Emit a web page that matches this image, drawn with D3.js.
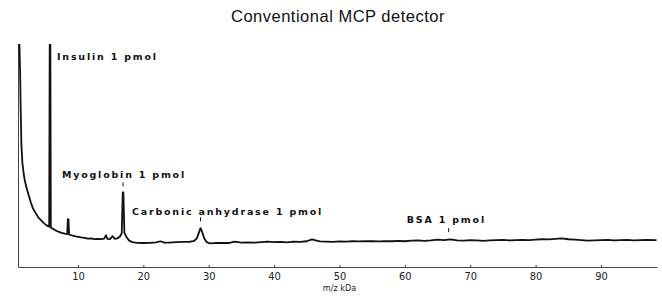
<!DOCTYPE html>
<html>
<head>
<meta charset="utf-8">
<script src="https://cdn.jsdelivr.net/npm/d3@7"></script>
<style>
  body { margin: 0; background: #fff; }
  svg { display: block; }
  .title { font-family: "Liberation Sans", Arial, sans-serif; font-size: 16.5px; letter-spacing: 0.5px; fill: #111; }
  .peak-label { font-family: "DejaVu Sans", sans-serif; font-weight: bold; font-size: 9.5px; letter-spacing: 1.8px; fill: #111; }
  .axis text { font-family: "Liberation Sans Narrow", "DejaVu Sans Condensed", "Liberation Sans", sans-serif; font-size: 11px; fill: #222; }
  .axis path, .axis line { stroke: #444; }
</style>
</head>
<body>
<div id="chart"></div>
<script>
// spectrum (m/z in kDa, intensity in % of full scale)
var spectrumMz = [0.83, 1.05, 1.15, 1.25, 1.35, 1.5, 1.7, 1.9, 2.2, 2.5, 2.8, 3.1, 3.5, 3.9, 4.3, 4.7, 5.1, 5.4, 5.6,
  5.68, 5.78, 5.85, 6.1, 6.5, 7.0, 7.5, 8.0, 8.35, 8.45, 8.55, 8.65, 9.0, 9.5, 10, 10.5, 11, 11.5, 12, 12.5, 13, 13.5,
  14, 14.3, 14.5, 14.9, 15.3, 15.6, 16.0, 16.4, 16.7, 16.85, 16.95, 17.1, 17.4, 17.8, 18.3, 19, 20, 21, 22, 22.6, 23.2,
  24, 25, 26, 27, 27.8, 28.2, 28.5, 28.75, 29.0, 29.3, 29.7, 30.2, 31, 32, 33, 34, 35, 36, 37, 38, 39, 40, 41, 42, 43,
  44, 45, 45.8, 46.5, 47, 48, 49, 50, 51, 52, 53, 54, 55, 56, 57, 58, 59, 60, 61, 62, 63, 64, 65, 66, 67, 68, 69, 70,
  71, 72, 73, 74, 75, 76, 77, 78, 79, 80, 81, 82, 83, 84, 85, 86, 87, 88, 89, 90, 91, 92, 93, 94, 95, 96, 97, 98.5];
var spectrumIntensity = [100, 100, 88, 70, 55, 47, 42, 38.5, 35, 32, 29, 26.5, 24.5, 22.5, 21.2, 20, 19, 18.4, 18.2,
  100, 100, 17.8, 17.3, 16.6, 15.9, 15.4, 15, 14.8, 21.5, 21.5, 14.6, 14.3, 13.9, 13.6, 13.3, 13.1, 12.8, 12.9, 12.6, 12.7, 12.6,
  12.8, 14.3, 12.7, 12.6, 13.9, 12.7, 12.9, 13.6, 15.2, 33.6, 33.6, 15.5, 13.6, 12, 11.2, 10.9, 10.8, 10.9, 11.1, 11.6, 11,
  11, 11.2, 11.3, 11.3, 11.8, 13, 15.5, 17.5, 15.8, 13, 11.2, 10.6, 10.8, 10.9, 10.8, 11.4, 11, 11.1, 11, 11.2, 11.4, 11.2, 11.3, 11.1, 11.4,
  11.3, 11.6, 12.4, 11.9, 11.5, 11.4, 11.3, 11.5, 11.4, 11.6, 11.5, 11.7, 11.6, 11.5, 11.7, 11.6, 11.8, 11.6, 11.9, 12, 11.8, 12, 12.3, 12.1, 12.4, 12, 11.9, 12.1,
  12, 11.8, 12, 12.1, 12.2, 12, 12.1, 12.2, 12.1, 12.3, 12.5, 12.4, 12.7, 12.9, 12.5, 12.3, 12.1, 11.9, 12, 12.1, 12.2, 12, 12.1, 12.2, 12, 12.1, 12.2, 12.1];

var xTicks = [10, 20, 30, 40, 50, 60, 70, 80, 90];

// peak annotations
var peakNames = ["Insulin 1 pmol", "Myoglobin 1 pmol", "Carbonic anhydrase 1 pmol", "BSA 1 pmol"];
var labelMz = [6.8, 7.55, 18.26, 60.3];
var labelIntensity = [94.6, 41.7, 25.1, 21.5];
var markMz = [null, 16.9, 28.75, 66.7];
var markIntensity = [null, 37.2, 21.5, 16.6];

var svgWidth = 662;
var svgHeight = 296;
var margin = { top: 45, right: 5, bottom: 29, left: 18 };
var w = svgWidth - margin.left - margin.right;
var h = svgHeight - margin.top - margin.bottom;

var svg = d3.select("#chart")
  .append("svg")
  .attr("width", svgWidth)
  .attr("height", svgHeight);

svg.append("text")
  .attr("class", "title")
  .attr("x", 338)
  .attr("y", 22)
  .attr("text-anchor", "middle")
  .text("Conventional MCP detector");

var chartGroup = svg.append("g")
  .attr("transform", `translate(${margin.left}, ${margin.top})`);

var x = d3.scaleLinear().domain([0.83, 98.57]).range([0, w]);
var y = d3.scaleLinear().domain([0, 100]).range([h, 0]);

// axes
chartGroup.append("g")
  .attr("class", "axis")
  .attr("transform", `translate(0, ${h})`)
  .call(d3.axisBottom(x).tickValues(xTicks).tickSizeInner(-2).tickSizeOuter(0).tickPadding(5));

chartGroup.append("g")
  .attr("class", "axis")
  .call(d3.axisLeft(y).tickValues([]).tickSizeOuter(0));

svg.append("text")
  .attr("x", margin.left + x(50))
  .attr("y", 291)
  .attr("text-anchor", "middle")
  .style("font-family", "'Liberation Sans Narrow', 'DejaVu Sans Condensed', sans-serif")
  .style("font-size", "9px")
  .style("fill", "#222")
  .text("m/z kDa");

// spectrum trace
var points = spectrumMz.map((m, i) => [m, spectrumIntensity[i]]);
var line = d3.line()
  .x(d => x(d[0]))
  .y(d => y(d[1]));

chartGroup.append("path")
  .datum(points)
  .attr("fill", "none")
  .attr("stroke", "#111")
  .attr("stroke-width", 1.8)
  .attr("stroke-linejoin", "round")
  .attr("d", line);

// labels and little markers above peaks
peakNames.forEach(function (name, i) {
  chartGroup.append("text")
    .attr("class", "peak-label")
    .attr("x", x(labelMz[i]))
    .attr("y", y(labelIntensity[i]))
    .attr("dy", "0.35em")
    .text(name);
  if (markMz[i] != null) {
    chartGroup.append("line")
      .attr("x1", x(markMz[i]))
      .attr("x2", x(markMz[i]))
      .attr("y1", y(markIntensity[i]) - 2)
      .attr("y2", y(markIntensity[i]) + 2)
      .attr("stroke", "#111")
      .attr("stroke-width", 1);
  }
});
</script>
</body>
</html>
